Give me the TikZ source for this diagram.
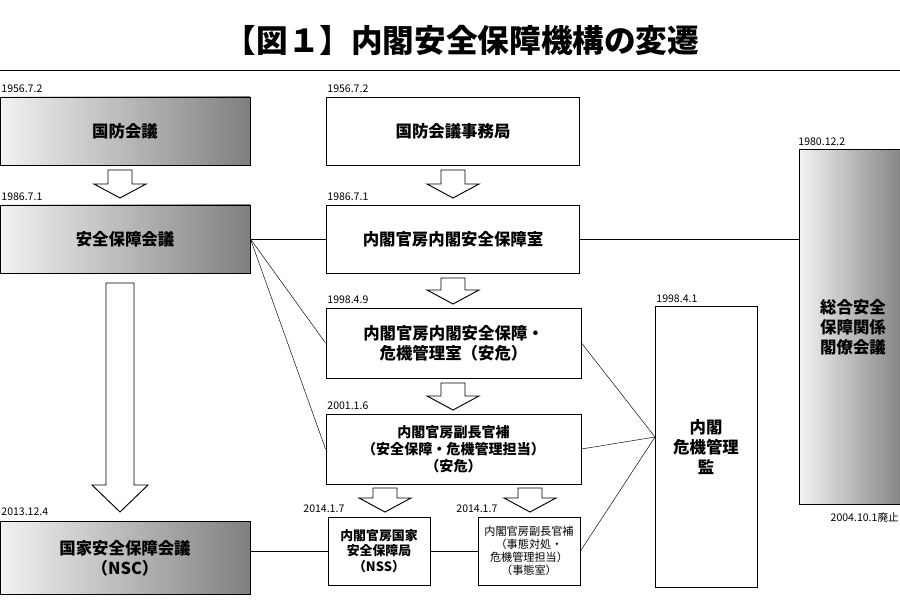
\documentclass[tikz,border=0pt]{standalone}
\usepackage{fontspec}
\setmainfont{Noto Sans CJK JP}
\usetikzlibrary{calc}
\newcommand{\blockarr}[3]{% x, top, bottom
  \draw[thick,fill=white] (#1-12,#2) -- (#1+12,#2) -- (#1+12,#3-14) -- (#1+26,#3-14)
    -- (#1,#3) -- (#1-26,#3-14) -- (#1-12,#3-14) -- cycle;}
\begin{document}
\begin{tikzpicture}[x=0.3mm,y=-0.3mm]
        \tikzstyle{g} = [rectangle, draw=black, thick, text centered, align=center,
                         left color=black!5, right color=black!50, font=\fontsize{14}{17}\selectfont\bfseries]
        \tikzstyle{w} = [rectangle, draw=black, thick, fill=white, text centered, align=center,
                         font=\fontsize{14}{17}\selectfont\bfseries]
        \tikzstyle{ws} = [w, font=\fontsize{11}{13}\selectfont\bfseries]
        \tikzstyle{dt} = [anchor=south west, inner sep=1pt, font=\fontsize{9}{10}\selectfont]
        \useasboundingbox (0,0) rectangle (900,600);
        \clip (0,0) rectangle (900,600);

        \node(title) at (462,40) {\fontsize{27}{30}\selectfont\bfseries 【図１】内閣安全保障機構の変遷};
        \draw (0,70) -- (900,70);

        % left column
        \node(kbk)  [g, minimum width=75mm, minimum height=20.4mm] at (125,131) {国防会議};
        \node(ahk)  [g, minimum width=75mm, minimum height=20.4mm] at (125,239) {安全保障会議};
        \node(nsc)  [g, minimum width=75mm, minimum height=22mm]   at (125,558) {国家安全保障会議\\（NSC）};
        % middle column
        \node(kbj)  [w, minimum width=76mm, minimum height=20.4mm] at (453,131) {国防会議事務局};
        \node(nak)  [w, minimum width=76mm, minimum height=20.4mm] at (453,239) {内閣官房内閣安全保障室};
        \node(anki) [w, minimum width=76.5mm, minimum height=21mm] at (453.5,343) {内閣官房内閣安全保障・\\危機管理室（安危）};
        \node(fku)  [ws, minimum width=76.5mm, minimum height=21mm, font=\fontsize{12}{14.5}\selectfont\bfseries] at (453.5,449) {内閣官房副長官補\\（安全保障・危機管理担当）\\（安危）};
        \node(nss)  [ws, minimum width=30.6mm, minimum height=20.4mm] at (379,551) {内閣官房国家\\安全保障局\\（NSS）};
        \node(jtl)  [ws, minimum width=30.6mm, minimum height=20.4mm, font=\fontsize{9.5}{11}\selectfont] at (529,551) {内閣官房副長官補\\（事態対処・\\危機管理担当）\\（事態室）};
        % right
        \node(kkk)  [w, minimum width=30.6mm, minimum height=84.3mm] at (706,447) {内閣\\危機管理\\監};
        \node(sgk)  [g, minimum width=32mm, minimum height=106.5mm] at (853,327) {総合安全\\保障関係\\閣僚会議};
        \coordinate(hub) at (655,437);

        % dates
        \node[dt] at (0,94)   {1956.7.2};
        \node[dt] at (0,202)  {1986.7.1};
        \node[dt] at (0,517)  {2013.12.4};
        \node[dt] at (326,94) {1956.7.2};
        \node[dt] at (326,202){1986.7.1};
        \node[dt] at (326,305){1998.4.9};
        \node[dt] at (326,411){2001.1.6};
        \node[dt] at (302,514){2014.1.7};
        \node[dt] at (455,514){2014.1.7};
        \node[dt] at (655,304){1998.4.1};
        \node[dt] at (797,147){1980.12.2};
        \node[dt, anchor=north east] at (900,511){2004.10.1廃止};

        % block arrows
        \blockarr{120}{170}{198}
        \blockarr{453}{170}{198}
        \blockarr{453}{278}{304}
        \blockarr{453}{383}{410}
        \blockarr{385}{488}{512}
        \blockarr{530}{488}{512}
        \draw[thick,fill=white] (106,283) -- (134,283) -- (134,485) -- (148,485)
          -- (120,512) -- (92,485) -- (106,485) -- cycle;

        % connectors
        \draw (ahk.east) -- (nak.west);
        \draw (ahk.east) -- (anki.west);
        \draw (ahk.east) -- (fku.west);
        \draw (nak.east) -- (sgk.west |- nak.east);
        \draw (anki.east) -- (hub);
        \draw (fku.east) -- (hub);
        \draw (jtl.east) -- (hub);
        \draw (nsc.east |- nss.west) -- (nss.west);
        \draw (nss.east) -- (jtl.west);
      \end{tikzpicture}
\end{document}
